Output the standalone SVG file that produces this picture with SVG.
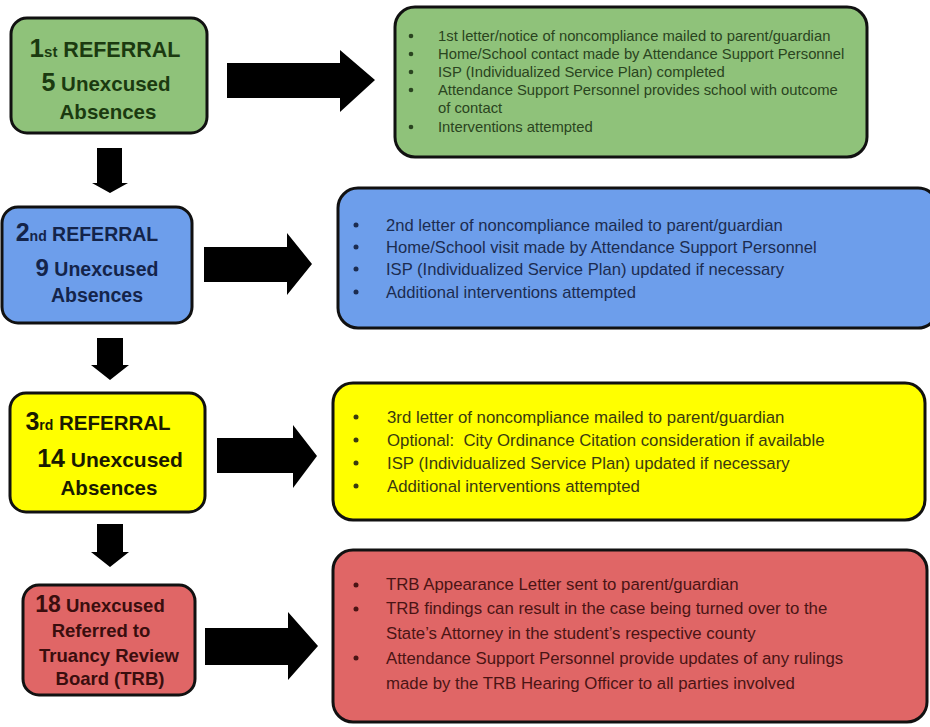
<svg xmlns="http://www.w3.org/2000/svg" width="930" height="727" viewBox="0 0 930 727">
<style>
.box{stroke:#111;stroke-width:3}
.g{fill:#8fc27a}.b{fill:#6d9eeb}.y{fill:#ffff00}.r{fill:#e06666}
.t{font-family:"Liberation Sans",Arial,sans-serif;font-weight:bold;text-anchor:middle}
.l{font-family:"Liberation Sans",Arial,sans-serif}
.arr{fill:#000}
</style>
<rect width="930" height="727" fill="#fff"/>
<g id="connectors">
<polygon class="arr" points="227,63 340,63 340,50 375,80 340,112 340,98 227,98"/>
<polygon class="arr" points="204,247 287,247 287,233 312,264 287,295 287,282 204,282"/>
<polygon class="arr" points="217,438 293,438 293,425 317,456 293,488 293,473 217,473"/>
<polygon class="arr" points="205,628 288,628 288,612 318,646 288,680 288,665 205,665"/>
<polygon class="arr" points="97,148 122,148 122,183 128,183 110,193 92,183 97,183"/>
<polygon class="arr" points="97,338 123,338 123,365 129,365 110,380 91,365 97,365"/>
<polygon class="arr" points="97,524 123,524 123,552 129,552 110,567 91,552 97,552"/>
</g>
<g id="ref1">
<rect class="box g" x="11" y="18" width="196" height="115" rx="16"/>
<text class="t" fill="#1b3a10" x="105" y="57" font-size="21.5"><tspan font-size="26">1</tspan><tspan font-size="15">st</tspan> REFERRAL</text>
<text class="t" fill="#1b3a10" x="106" y="91" font-size="20.5"><tspan font-size="25">5</tspan> Unexcused</text>
<text class="t" fill="#1b3a10" x="108" y="119" font-size="20.5">Absences</text>
</g>
<g id="act1">
<rect class="box g" x="395" y="7" width="472" height="150" rx="20"/>
<g fill="#2a4420"><circle cx="411" cy="36" r="2.3"/><circle cx="411" cy="54" r="2.3"/><circle cx="411" cy="72" r="2.3"/><circle cx="411" cy="90" r="2.3"/><circle cx="411" cy="127" r="2.3"/></g>
<g class="l" fill="#2a4420" font-size="14.8">
<text x="438" y="41">1st letter/notice of noncompliance mailed to parent/guardian</text>
<text x="438" y="59">Home/School contact made by Attendance Support Personnel</text>
<text x="438" y="77">ISP (Individualized Service Plan) completed</text>
<text x="438" y="95">Attendance Support Personnel provides school with outcome</text>
<text x="438" y="113">of contact</text>
<text x="438" y="132">Interventions attempted</text>
</g>
</g>
<g id="ref2">
<rect class="box b" x="2" y="207" width="190" height="116" rx="16"/>
<text class="t" fill="#14244a" x="87" y="241" font-size="19.5"><tspan font-size="25">2</tspan><tspan font-size="14">nd</tspan> REFERRAL</text>
<text class="t" fill="#14244a" x="97" y="276" font-size="19.5"><tspan font-size="24">9</tspan> Unexcused</text>
<text class="t" fill="#14244a" x="97" y="302" font-size="19.5">Absences</text>
</g>
<g id="act2">
<rect class="box b" x="338" y="188" width="600" height="140" rx="20"/>
<g fill="#1c2c50"><circle cx="356" cy="225" r="2.5"/><circle cx="356" cy="247" r="2.5"/><circle cx="356" cy="269" r="2.5"/><circle cx="356" cy="292" r="2.5"/></g>
<g class="l" fill="#1c2c50" font-size="16.6">
<text x="386" y="231">2nd letter of noncompliance mailed to parent/guardian</text>
<text x="386" y="253">Home/School visit made by Attendance Support Personnel</text>
<text x="386" y="275">ISP (Individualized Service Plan) updated if necessary</text>
<text x="386" y="298">Additional interventions attempted</text>
</g>
</g>
<g id="ref3">
<rect class="box y" x="10" y="393" width="195" height="119" rx="16"/>
<text class="t" fill="#1a1a00" x="98" y="430" font-size="20.5"><tspan font-size="25">3</tspan><tspan font-size="14">rd</tspan> REFERRAL</text>
<text class="t" fill="#1a1a00" x="110" y="467" font-size="21"><tspan font-size="25">14</tspan> Unexcused</text>
<text class="t" fill="#1a1a00" x="109" y="495" font-size="20.5">Absences</text>
</g>
<g id="act3">
<rect class="box y" x="333" y="383" width="592" height="137" rx="20"/>
<g fill="#3a3a10"><circle cx="356" cy="417" r="2.5"/><circle cx="356" cy="440" r="2.5"/><circle cx="356" cy="463" r="2.5"/><circle cx="356" cy="486" r="2.5"/></g>
<g class="l" fill="#3a3a10" font-size="16.8">
<text x="387" y="423">3rd letter of noncompliance mailed to parent/guardian</text>
<text x="387" y="446" style="white-space:pre">Optional:  City Ordinance Citation consideration if available</text>
<text x="387" y="469">ISP (Individualized Service Plan) updated if necessary</text>
<text x="387" y="492">Additional interventions attempted</text>
</g>
</g>
<g id="trb">
<rect class="box r" x="23" y="585" width="172" height="110" rx="16"/>
<text class="t" fill="#3a0e0e" x="100" y="612" font-size="18.5"><tspan font-size="23">18</tspan> Unexcused</text>
<text class="t" fill="#3a0e0e" x="101" y="637" font-size="18.5">Referred to</text>
<text class="t" fill="#3a0e0e" x="109" y="662" font-size="18.5">Truancy Review</text>
<text class="t" fill="#3a0e0e" x="110" y="685" font-size="18.5">Board (TRB)</text>
</g>
<g id="act4">
<rect class="box r" x="333" y="550" width="594" height="172" rx="20"/>
<g fill="#4a1414"><circle cx="356" cy="585" r="2.5"/><circle cx="356" cy="609" r="2.5"/><circle cx="356" cy="658" r="2.5"/></g>
<g class="l" fill="#4a1414" font-size="16.8">
<text x="386" y="590">TRB Appearance Letter sent to parent/guardian</text>
<text x="386" y="614">TRB findings can result in the case being turned over to the</text>
<text x="386" y="639">State’s Attorney in the student’s respective county</text>
<text x="386" y="664">Attendance Support Personnel provide updates of any rulings</text>
<text x="386" y="689">made by the TRB Hearing Officer to all parties involved</text>
</g>
</g>
</svg>
